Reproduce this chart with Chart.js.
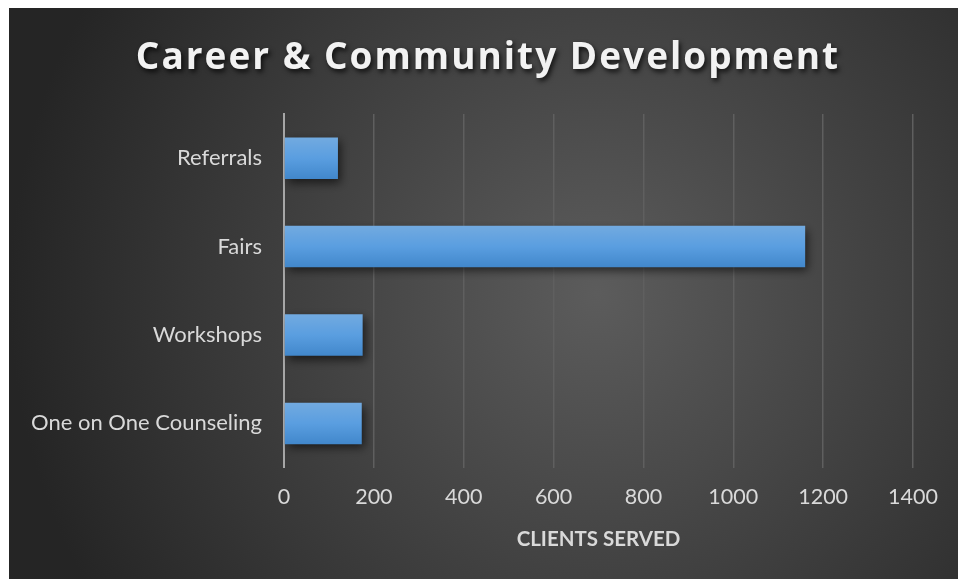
<!DOCTYPE html>
<html>
<head>
<meta charset="utf-8">
<script src="https://cdn.jsdelivr.net/npm/chart.js@4/dist/chart.umd.min.js"></script>
<style>
  html, body { margin: 0; padding: 0; background: #fff; }
  #wrap { position: absolute; left: 9px; top: 8px; width: 949px; height: 571px; }
</style>
</head>
<body>
<div id="wrap"><canvas id="chart"></canvas></div>
<script>
const chartTitle = 'Career & Community Development';
const categories = ['Referrals', 'Fairs', 'Workshops', 'One on One Counseling'];
const clientsServed = [120, 1160, 175, 173];
const axisTitle = 'CLIENTS SERVED';

const textColor = '#d9d9d9';
const fontFamily = 'Lato, "Open Sans", sans-serif';

// dark radial backdrop + title drawn by hand (letter spacing and shadow)
const backdropPlugin = {
  id: 'backdrop',
  beforeDraw(chart) {
    const { ctx, width, height } = chart;
    ctx.save();
    const g = ctx.createRadialGradient(width * 0.62, height * 0.5, 0, width * 0.62, height * 0.5, width * 0.62);
    g.addColorStop(0, '#5c5c5c');
    g.addColorStop(1, '#252525');
    ctx.fillStyle = g;
    ctx.fillRect(0, 0, width, height);
    ctx.restore();
  },
  afterDraw(chart) {
    const { ctx } = chart;
    ctx.save();
    ctx.font = 'bold 37px "Open Sans", sans-serif';
    ctx.letterSpacing = '2px';
    ctx.textAlign = 'center';
    ctx.textBaseline = 'middle';
    ctx.shadowColor = 'rgba(0,0,0,0.75)';
    ctx.shadowBlur = 5;
    ctx.shadowOffsetX = 2;
    ctx.shadowOffsetY = 3;
    ctx.fillStyle = '#f2f2f2';
    ctx.fillText(chartTitle, 479, 50);
    ctx.restore();
  }
};

const barShadowPlugin = {
  id: 'barShadow',
  beforeDatasetsDraw(chart) {
    const ctx = chart.ctx;
    ctx.save();
    ctx.shadowColor = 'rgba(0,0,0,0.6)';
    ctx.shadowBlur = 9;
    ctx.shadowOffsetX = 3;
    ctx.shadowOffsetY = 4;
  },
  afterDatasetsDraw(chart) {
    chart.ctx.restore();
  }
};

function barFill(context) {
  const chart = context.chart;
  if (!chart.chartArea) return '#5b9bd5';
  const y = chart.scales.y.getPixelForValue(context.dataIndex);
  const half = 21;
  const g = chart.ctx.createLinearGradient(0, y - half, 0, y + half);
  g.addColorStop(0, '#72aae0');
  g.addColorStop(0.5, '#5a9ee0');
  g.addColorStop(1, '#4187cb');
  return g;
}

new Chart(document.getElementById('chart'), {
  type: 'bar',
  data: {
    labels: categories,
    datasets: [{
      data: clientsServed,
      backgroundColor: barFill,
      borderWidth: 0,
      barPercentage: 0.47,
      categoryPercentage: 1
    }]
  },
  options: {
    indexAxis: 'y',
    responsive: true,
    maintainAspectRatio: false,
    animation: false,
    layout: { padding: { top: 106, right: 45, left: 0, bottom: 27 } },
    plugins: {
      legend: { display: false },
      tooltip: { enabled: false }
    },
    scales: {
      x: {
        min: 0,
        max: 1400,
        ticks: {
          stepSize: 200,
          color: textColor,
          font: { family: fontFamily, size: 21.5 },
          padding: 17,
          callback: (v) => String(v)
        },
        grid: {
          color: (c) => c.index === 0 ? 'rgba(0,0,0,0)' : '#5f5f5f',
          lineWidth: 1.5,
          drawTicks: false
        },
        border: { display: false },
        title: {
          display: true,
          text: axisTitle,
          color: textColor,
          font: { family: fontFamily, size: 20.5, weight: 'bold' },
          padding: { top: 0, bottom: 0 }
        }
      },
      y: {
        ticks: { color: textColor, font: { family: fontFamily, size: 22 }, padding: 22 },
        grid: { display: false, drawTicks: false },
        border: { display: true, color: '#a6a6a6', width: 2 }
      }
    }
  },
  plugins: [backdropPlugin, barShadowPlugin]
});
</script>
</body>
</html>
